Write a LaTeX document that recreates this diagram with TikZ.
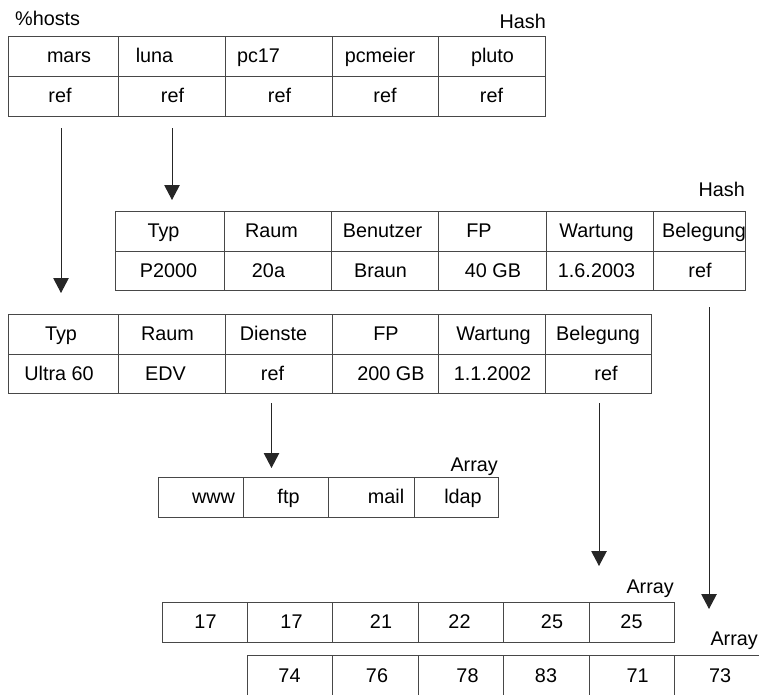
\documentclass[tikz,border=0pt]{standalone}
\usepackage{fontspec}
\setmainfont{Liberation Sans}
\usetikzlibrary{arrows.meta,calc}

% one table cell: name, x, y (top left), width, height, text, text offset
\newcommand\tabcell[7]{%
  \node[cell, minimum width=#4pt, minimum height=#5pt] (#1) at (#2,#3) {};
  \node[txt, xshift=#7pt] (#1-t) at (#1.center) {#6};}

\tikzset{
  cell/.style={draw=black!72, line width=0.9pt, rectangle, anchor=north west,
               inner sep=0pt, outer sep=0pt},
  txt/.style={anchor=base, yshift=-6.5pt, inner sep=0pt,
              font=\fontsize{19.8}{23}\selectfont},
  lbl/.style={inner sep=0pt, font=\fontsize{19.8}{23}\selectfont},
  ptr/.style={draw=black!85, line width=1pt,
              -{Triangle[length=15pt,width=15.5pt]}},
}

\begin{document}
\begin{tikzpicture}[x=1pt, y=-1pt]
\useasboundingbox (0,0) rectangle (759,694);
\clip (0,0) rectangle (759,694);

% %hosts hash
\node[lbl, anchor=base west] (hostsname) at (15,25) {\%hosts};
\node[lbl, anchor=base east] (hashA) at (546,28) {Hash};
\tabcell{h1}{8}{36}{110}{40}{mars}{6}
\tabcell{h2}{118}{36}{107}{40}{luna}{-17}
\tabcell{h3}{225}{36}{107}{40}{pc17}{-20}
\tabcell{h4}{332}{36}{106}{40}{pcmeier}{-5}
\tabcell{h5}{438}{36}{107}{40}{pluto}{1}
\tabcell{h1r}{8}{76}{110}{40}{ref}{-3}
\tabcell{h2r}{118}{76}{107}{40}{ref}{1}
\tabcell{h3r}{225}{76}{107}{40}{ref}{1}
\tabcell{h4r}{332}{76}{106}{40}{ref}{0}
\tabcell{h5r}{438}{76}{107}{40}{ref}{0}

% record of luna
\node[lbl, anchor=base east] (hashB) at (745,196) {Hash};
\tabcell{b1}{115}{211}{109}{40}{Typ}{-6}
\tabcell{b2}{224}{211}{107}{40}{Raum}{-6}
\tabcell{b3}{331}{211}{107}{40}{Benutzer}{-2}
\tabcell{b4}{438}{211}{108}{40}{FP}{-13}
\tabcell{b5}{546}{211}{107}{40}{Wartung}{-3}
\tabcell{b6}{653}{211}{92}{40}{Belegung}{5}
\tabcell{b1r}{115}{251}{109}{39}{P2000}{-1}
\tabcell{b2r}{224}{251}{107}{39}{20a}{-9}
\tabcell{b3r}{331}{251}{107}{39}{Braun}{-4}
\tabcell{b4r}{438}{251}{108}{39}{40 GB}{1}
\tabcell{b5r}{546}{251}{107}{39}{1.6.2003}{-3}
\tabcell{b6r}{653}{251}{92}{39}{ref}{1}

% record of mars
\tabcell{c1}{8}{314}{110}{40}{Typ}{-2}
\tabcell{c2}{118}{314}{107}{40}{Raum}{-4}
\tabcell{c3}{225}{314}{107}{40}{Dienste}{-5}
\tabcell{c4}{332}{314}{106}{40}{FP}{1}
\tabcell{c5}{438}{314}{107}{40}{Wartung}{2}
\tabcell{c6}{545}{314}{106}{40}{Belegung}{0}
\tabcell{c1r}{8}{354}{110}{39}{Ultra 60}{-4}
\tabcell{c2r}{118}{354}{107}{39}{EDV}{-6}
\tabcell{c3r}{225}{354}{107}{39}{ref}{-6}
\tabcell{c4r}{332}{354}{106}{39}{200 GB}{6}
\tabcell{c5r}{438}{354}{107}{39}{1.1.2002}{1}
\tabcell{c6r}{545}{354}{106}{39}{ref}{8}

% services array
\node[lbl, anchor=base east] (arrA) at (498,471) {Array};
\tabcell{a1}{158}{477}{85}{40}{www}{13}
\tabcell{a2}{243}{477}{85}{40}{ftp}{3}
\tabcell{a3}{328}{477}{86}{40}{mail}{15}
\tabcell{a4}{414}{477}{84}{40}{ldap}{7}

% occupancy array of mars
\node[lbl, anchor=base east] (arrB) at (674,593) {Array};
\tabcell{p1}{162}{602}{85}{40}{17}{1}
\tabcell{p2}{247}{602}{85}{40}{17}{2}
\tabcell{p3}{332}{602}{86}{40}{21}{6}
\tabcell{p4}{418}{602}{85}{40}{22}{-1}
\tabcell{p5}{503}{602}{86}{40}{25}{6}
\tabcell{p6}{589}{602}{85}{40}{25}{0}

% occupancy array of luna
\node[lbl, anchor=base east] (arrC) at (758,645) {Array};
\tabcell{q1}{247}{655}{85}{41}{74}{0}
\tabcell{q2}{332}{655}{86}{41}{76}{2}
\tabcell{q3}{418}{655}{85}{41}{78}{7}
\tabcell{q4}{503}{655}{86}{41}{83}{0}
\tabcell{q5}{589}{655}{85}{41}{71}{6}
\tabcell{q6}{674}{655}{116}{41}{73}{-12}

% references
\draw[ptr] ($(h1r.south)+(-2,12)$) -- ($(h1r.south |- c1.north)+(-2,-21)$);
\draw[ptr] ($(h2r.south)+(0.5,12)$) -- ($(h2r.south |- b1.north)+(0.5,-11)$);
\draw[ptr] ($(c3r.south)+(-7,10)$) -- ($(c3r.south |- a2.north)+(-7,-9)$);
\draw[ptr] ($(c6r.south)+(1,10)$) -- ($(c6r.south |- p6.north)+(1,-36)$);
\draw[ptr] ($(b6r.south)+(10,17)$) -- ($(b6r.south |- q6.north)+(10,-46)$);
\end{tikzpicture}
\end{document}
